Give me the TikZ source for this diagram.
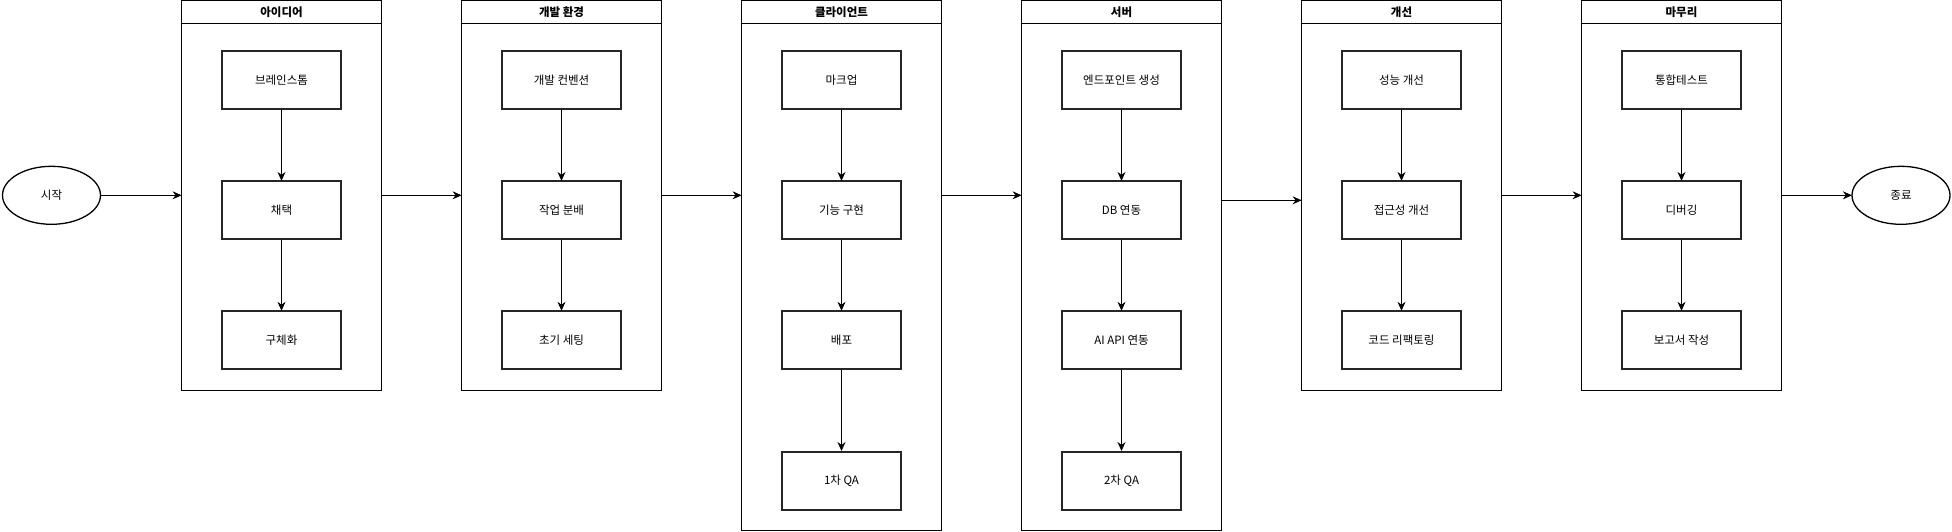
\documentclass[tikz,border=0pt]{standalone}
\usepackage{fontspec}
\setmainfont{Noto Sans CJK KR}
\usepackage{tikz}
\usetikzlibrary{arrows.meta,positioning,shapes.geometric,calc}

\begin{document}
\begin{tikzpicture}[x=1pt, y=-1pt, >={Stealth[length=9pt,width=8pt,inset=3pt]},
  font=\fontsize{11.5}{13}\selectfont,
  lane/.style={draw, line width=0.8pt, minimum width=200pt, inner sep=0pt},
  hd/.style={draw, line width=0.8pt, minimum width=200pt, minimum height=23.4pt,
             inner sep=0pt, font=\fontsize{11.5}{13}\selectfont\bfseries},
  st/.style={draw=black!85, line width=2pt, minimum width=119pt,
             minimum height=58pt, inner sep=2pt},
  term/.style={draw, ellipse, line width=1.3pt, minimum width=98pt,
               minimum height=58pt, inner sep=0pt},
  flow/.style={->, line width=0.8pt, shorten >=-0.5pt}]
  \useasboundingbox (0,0) rectangle (1952,531);

  % lanes
  \node[lane, minimum height=389.5pt] (idea) at (281.5,195.3) {};
  \node[hd] (ideaT) at (281.5,12) {아이디어};
  \node[lane, minimum height=389.5pt] (env) at (561.5,195.3) {};
  \node[hd] (envT) at (561.5,12) {개발 환경};
  \node[lane, minimum height=529.5pt] (cli) at (841.5,265.2) {};
  \node[hd] (cliT) at (841.5,12) {클라이언트};
  \node[lane, minimum height=529.5pt] (srv) at (1121.5,265.2) {};
  \node[hd] (srvT) at (1121.5,12) {서버};
  \node[lane, minimum height=389.5pt] (imp) at (1401.5,195.3) {};
  \node[hd] (impT) at (1401.5,12) {개선};
  \node[lane, minimum height=389.5pt] (fin) at (1681.5,195.3) {};
  \node[hd] (finT) at (1681.5,12) {마무리};

  % start / end
  \node[term] (S) at (51.5,195.3) {시작};
  \node[term] (E) at (1901,195.3) {종료};

  % steps
  \node[st] (i1) at (281.5,80.4)  {브레인스톰};
  \node[st] (i2) at (281.5,210.4) {채택};
  \node[st] (i3) at (281.5,340.3) {구체화};

  \node[st] (e1) at (561.5,80.4)  {개발 컨벤션};
  \node[st] (e2) at (561.5,210.4) {작업 분배};
  \node[st] (e3) at (561.5,340.3) {초기 세팅};

  \node[st] (c1) at (841.5,80.4)  {마크업};
  \node[st] (c2) at (841.5,210.4) {기능 구현};
  \node[st] (c3) at (841.5,340.3) {배포};
  \node[st] (c4) at (841.5,480.5) {1차 QA};

  \node[st] (s1) at (1121.5,80.4)  {엔드포인트 생성};
  \node[st] (s2) at (1121.5,210.4) {DB 연동};
  \node[st] (s3) at (1121.5,340.3) {AI API 연동};
  \node[st] (s4) at (1121.5,480.5) {2차 QA};

  \node[st] (p1) at (1401.5,80.4)  {성능 개선};
  \node[st] (p2) at (1401.5,210.4) {접근성 개선};
  \node[st] (p3) at (1401.5,340.3) {코드 리팩토링};

  \node[st] (f1) at (1681.5,80.4)  {통합테스트};
  \node[st] (f2) at (1681.5,210.4) {디버깅};
  \node[st] (f3) at (1681.5,340.3) {보고서 작성};

  \draw[flow] (i1) -- (i2);
  \draw[flow] (i2) -- (i3);
  \draw[flow] (e1) -- (e2);
  \draw[flow] (e2) -- (e3);
  \draw[flow] (c1) -- (c2);
  \draw[flow] (c2) -- (c3);
  \draw[flow] (c3) -- (c4);
  \draw[flow] (s1) -- (s2);
  \draw[flow] (s2) -- (s3);
  \draw[flow] (s3) -- (s4);
  \draw[flow] (p1) -- (p2);
  \draw[flow] (p2) -- (p3);
  \draw[flow] (f1) -- (f2);
  \draw[flow] (f2) -- (f3);

  % between lanes
  \draw[flow] (S.east) -- (S.east -| idea.west);
  \draw[flow] (idea.east) -- (idea.east -| env.west);
  \draw[flow] (env.east) -- (env.east -| cli.west);
  \draw[flow] (cli.east |- S) -- (srv.west |- S);
  \draw[flow] ($(srv.east |- S)+(0,5)$) -- ($(imp.west |- S)+(0,5)$);
  \draw[flow] (imp.east) -- (imp.east -| fin.west);
  \draw[flow] (fin.east) -- (E.west);
\end{tikzpicture}
\end{document}
